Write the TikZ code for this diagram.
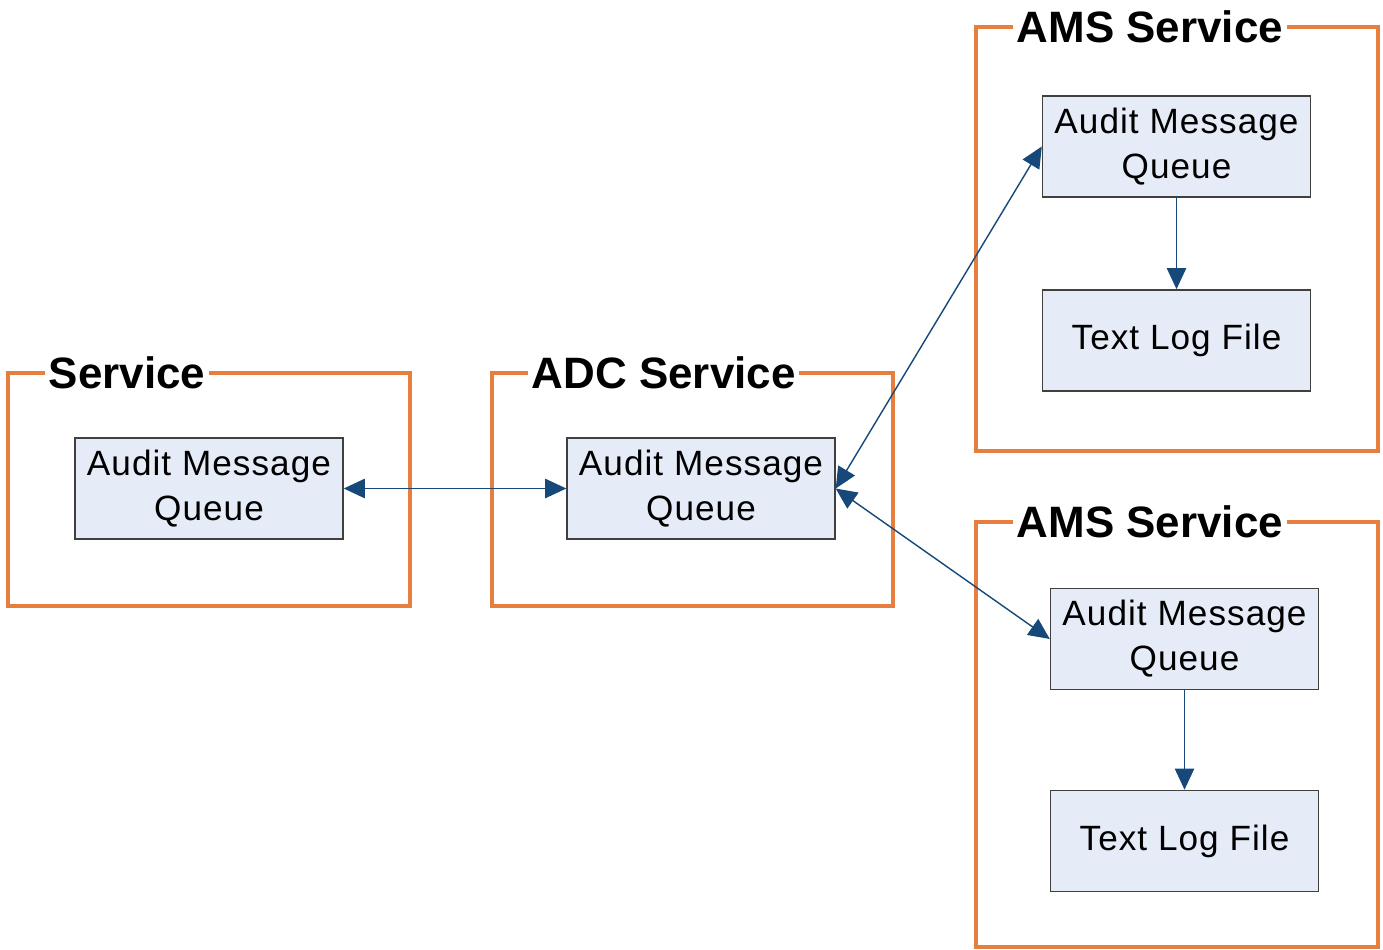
\documentclass[tikz,border=0pt]{standalone}
\usepackage{fontspec}
\setmainfont{Liberation Sans}
\newfontfamily\queuefont[LetterSpace=3]{Liberation Sans}
\usepackage{xcolor}
\usetikzlibrary{positioning,arrows.meta}
\definecolor{frameorange}{RGB}{230,126,64}
\definecolor{queuefill}{RGB}{230,236,247}
\definecolor{linkblue}{RGB}{22,72,122}

\begin{document}
\begin{tikzpicture}[
    frame/.style={draw=frameorange, line width=2pt},
    title/.style={fill=white, inner xsep=2pt, inner ysep=1pt, anchor=west, font=\bfseries\fontsize{25}{30}\selectfont},
    queue/.style={draw=black!75, fill=queuefill, line width=0.8pt, minimum width=5.36cm, minimum height=2.02cm, align=center, font=\queuefont\fontsize{20}{25.6}\selectfont},
    link/.style={draw=linkblue, line width=0.8pt, -{Triangle[length=12pt,width=11pt]}},
    both/.style={link, {Triangle[length=12pt,width=11pt]}-{Triangle[length=12pt,width=11pt]}}]
    \useasboundingbox (0,0) rectangle (27.66,-19);
    % service frames
    \draw[frame] (0.16,-7.46) rectangle (8.2,-12.12);
    \draw[frame] (9.84,-7.46) rectangle (17.86,-12.12);
    \draw[frame] (19.52,-0.54) rectangle (27.56,-9.02);
    \draw[frame] (19.52,-10.44) rectangle (27.56,-18.94);
    \node[title] (svcTitle) at (0.9,-7.46) {Service};
    \node[title] (adcTitle) at (10.56,-7.46) {ADC Service};
    \node[title] (amsTitleA) at (20.26,-0.54) {AMS Service};
    \node[title] (amsTitleB) at (20.26,-10.44) {AMS Service};
    % queues and logs
    \node[queue] (svcQueue) at (4.18,-9.77) {Audit Message\\Queue};
    \node[queue] (adcQueue) at (14.02,-9.77) {Audit Message\\Queue};
    \node[queue] (amsQueueA) at (23.53,-2.93) {Audit Message\\Queue};
    \node[queue, below=1.83cm of amsQueueA] (amsLogA) {Text Log File};
    \node[queue] (amsQueueB) at (23.69,-12.78) {Audit Message\\Queue};
    \node[queue, below=1.99cm of amsQueueB] (amsLogB) {Text Log File};
    % connectors
    \draw[both] (svcQueue.east) -- (adcQueue.west);
    \draw[both] (adcQueue.east) -- (amsQueueA.west);
    \draw[both] (adcQueue.east) -- (amsQueueB.west);
    \draw[link] (amsQueueA) -- (amsLogA);
    \draw[link] (amsQueueB) -- (amsLogB);
\end{tikzpicture}
\end{document}
